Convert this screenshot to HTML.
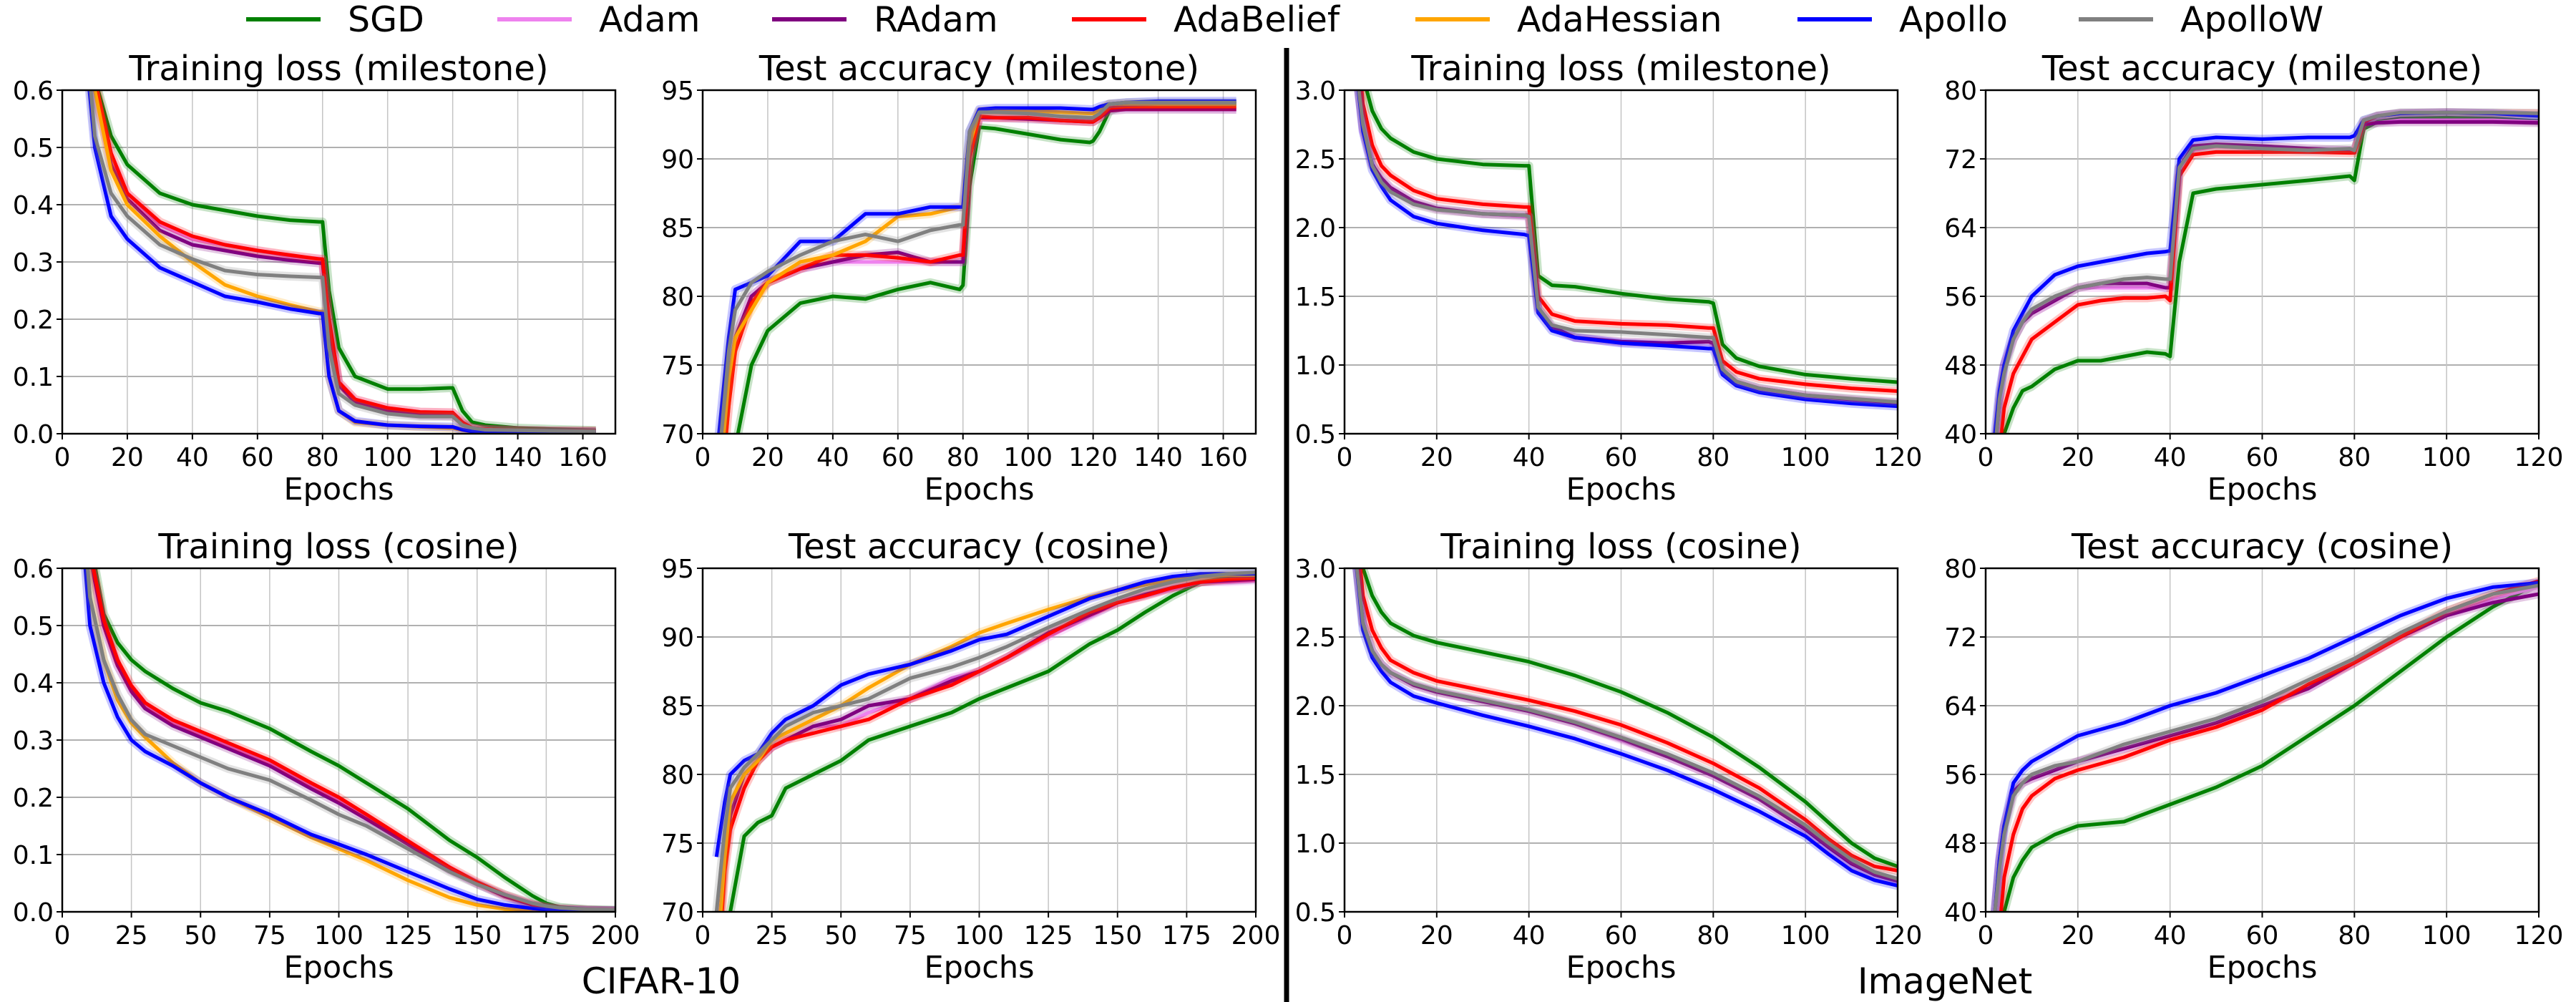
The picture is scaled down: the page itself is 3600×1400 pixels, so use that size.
<!DOCTYPE html>
<html><head><meta charset="utf-8">
<style>
html,body{margin:0;padding:0;background:#fff;}
svg{display:block;font-family:"DejaVu Sans","Liberation Sans",sans-serif;}
</style></head>
<body>
<svg id="fig" width="3600" height="1400" viewBox="0 0 3600 1400" xmlns="http://www.w3.org/2000/svg">
<rect x="0" y="0" width="3600" height="1400" fill="#fff"/>
<line x1="1798" y1="67" x2="1798" y2="1400" stroke="#000" stroke-width="7"/>
<text x="924" y="1388" font-size="50" text-anchor="middle">CIFAR-10</text>
<text x="2718" y="1388" font-size="50" text-anchor="middle">ImageNet</text>
<g id="legend"></g>
<g id="panels"></g>
</svg>
<script>
const names = ["SGD","Adam","RAdam","AdaBelief","AdaHessian","Apollo","ApolloW"];
const colors = ["#008000","#ee82ee","#800080","#ff0000","#ffa500","#0000ff","#808080"];
const legendLineX = [344,695,1079,1498,1978,2512,2905];

// Panel 1: CIFAR-10 training loss (milestone)
const p1Epochs = [5,10,15,20,30,40,50,60,70,79,80,82,85,90,100,110,119,120,123,126,130,140,150,164];
const p1SGD = [0.9,0.62,0.52,0.47,0.42,0.40,0.39,0.38,0.373,0.37,0.37,0.25,0.15,0.10,0.078,0.078,0.08,0.08,0.04,0.02,0.015,0.01,0.008,0.006];
const p1Adam = [0.9,0.6,0.48,0.42,0.365,0.34,0.33,0.32,0.31,0.306,0.305,0.2,0.09,0.06,0.045,0.038,0.037,0.037,0.02,0.01,0.008,0.006,0.005,0.004];
const p1RAdam = [0.9,0.6,0.47,0.41,0.355,0.33,0.32,0.31,0.303,0.298,0.298,0.19,0.085,0.055,0.04,0.032,0.031,0.031,0.018,0.01,0.008,0.006,0.005,0.004];
const p1AdaBelief = [0.9,0.62,0.49,0.42,0.37,0.345,0.33,0.32,0.312,0.305,0.305,0.2,0.09,0.06,0.045,0.038,0.037,0.037,0.02,0.01,0.008,0.006,0.005,0.005];
const p1AdaHessian = [0.9,0.6,0.46,0.4,0.345,0.3,0.26,0.24,0.225,0.213,0.213,0.1,0.04,0.02,0.015,0.012,0.01,0.01,0.006,0.004,0.003,0.003,0.002,0.002];
const p1Apollo = [0.8,0.5,0.38,0.34,0.29,0.265,0.24,0.23,0.218,0.21,0.21,0.1,0.04,0.022,0.015,0.013,0.012,0.012,0.007,0.004,0.003,0.002,0.002,0.002];
const p1ApolloW = [0.85,0.52,0.42,0.38,0.33,0.305,0.285,0.278,0.275,0.273,0.273,0.15,0.07,0.05,0.035,0.03,0.03,0.03,0.015,0.01,0.007,0.006,0.005,0.004];

// Panel 2: CIFAR-10 test accuracy (milestone)
const p2Epochs = [5,8,10,15,20,30,40,50,60,70,79,80,82,85,90,100,110,119,120,122,125,130,140,164];
const p2SGD = [60,65,69,75,77.5,79.5,80,79.8,80.5,81,80.5,80.8,88,92.3,92.2,91.8,91.4,91.2,91.3,92,93.5,93.9,94,94];
const p2Adam = [66,74,77,80,81,82,82.5,82.5,82.5,82.5,82.5,82.5,90,93,93,93,92.8,92.8,92.8,93,93.6,93.7,93.7,93.6];
const p2RAdam = [66,74,77,80,81,82,82.5,83,83.2,82.5,82.5,82.5,90,93,93,92.9,92.8,92.7,92.7,93,93.5,93.6,93.6,93.6];
const p2AdaBelief = [64,72,76,79.5,81,82,83,83,82.8,82.5,83,83,90,93.1,93,93,92.8,92.7,92.7,93,93.7,93.8,93.8,93.8];
const p2AdaHessian = [66,74,77,79,81,82.5,83,84,85.8,86,86.5,86.5,91,93.5,93.5,93.5,93.4,93.3,93.3,93.6,94,94,94,94];
const p2Apollo = [70,77,80.5,81,81.5,84,84,86,86,86.5,86.5,86.5,92,93.6,93.7,93.7,93.7,93.6,93.6,93.8,94,94.1,94.2,94.2];
const p2ApolloW = [68,76,79,81,81.8,83,84,84.5,84,84.8,85.2,85.2,92,93.4,93.4,93.3,93.1,93,93,93.3,94,94.1,94.1,94.1];

// Panel 3: ImageNet training loss (milestone)
const p3Epochs = [1,2,4,6,8,10,15,20,30,39,40,42,45,50,60,70,79,80,82,85,90,100,110,120];
const p3SGD = [5,4,3.1,2.85,2.72,2.65,2.55,2.5,2.46,2.45,2.45,1.65,1.58,1.57,1.52,1.48,1.46,1.45,1.15,1.05,0.99,0.93,0.9,0.875];
const p3Adam = [4,3.3,2.7,2.45,2.35,2.28,2.18,2.13,2.1,2.08,2.08,1.4,1.27,1.2,1.16,1.16,1.17,1.15,0.95,0.87,0.82,0.77,0.74,0.72];
const p3RAdam = [4,3.3,2.72,2.46,2.36,2.29,2.19,2.14,2.1,2.09,2.09,1.41,1.28,1.2,1.17,1.16,1.17,1.16,0.96,0.88,0.83,0.78,0.75,0.725];
const p3AdaBelief = [4.5,3.6,2.9,2.6,2.45,2.38,2.27,2.21,2.17,2.15,2.15,1.5,1.37,1.32,1.3,1.29,1.27,1.27,1.03,0.95,0.9,0.86,0.83,0.81];
const p3Apollo = [4,3.3,2.7,2.42,2.3,2.2,2.08,2.03,1.98,1.95,1.94,1.38,1.25,1.2,1.16,1.14,1.12,1.12,0.93,0.85,0.8,0.75,0.72,0.7];
const p3ApolloW = [4,3.3,2.75,2.45,2.33,2.26,2.17,2.13,2.1,2.09,2.08,1.42,1.29,1.25,1.24,1.22,1.2,1.2,0.97,0.88,0.83,0.78,0.755,0.73];

// Panel 4: ImageNet test accuracy (milestone)
const p4Epochs = [2,3,4,6,8,10,15,20,25,30,35,39,40,42,45,50,60,70,79,80,82,85,90,100,110,120];
const p4SGD = [30,36,40,43,45,45.5,47.5,48.5,48.5,49,49.5,49.3,49,60,68,68.5,69,69.5,70,69.5,75.5,76.3,76.7,76.8,76.7,76.4];
const p4Adam = [38,44,48,51,53,54,55.5,57,57,57,57,57,57,71,73,73.5,73.2,73,73,73,76,76.2,76.5,76.5,76.5,76.3];
const p4RAdam = [38,44,48,51,53,54,55.5,57,57.5,57.5,57.5,57,57,71,73.5,73.7,73.5,73.2,73,73,76,76.2,76.3,76.3,76.3,76.2];
const p4AdaBelief = [33,38,43,47,49,51,53,55,55.5,55.8,55.8,56,55.5,70,72.5,72.8,72.8,72.8,72.7,72.7,76.3,77,77.3,77.4,77.3,77.3];
const p4Apollo = [40,45,48,52,54,56,58.5,59.5,60,60.5,61,61.2,61.3,72,74.2,74.5,74.3,74.5,74.5,74.7,76.5,77,77.3,77.4,77.3,77];
const p4ApolloW = [38,44,47,51,53,54.5,56,57,57.5,58,58.2,58,58,71,73.2,73.5,73.2,73,73.2,73,76.5,77,77.4,77.4,77.4,77.3];

// Panel 5: CIFAR-10 training loss (cosine)
const p5Epochs = [5,10,15,20,25,30,40,50,60,75,90,100,110,125,140,150,160,170,175,180,190,200];
const p5SGD = [0.9,0.65,0.52,0.47,0.44,0.42,0.39,0.365,0.35,0.32,0.28,0.255,0.225,0.18,0.125,0.095,0.06,0.028,0.015,0.008,0.004,0.003];
const p5Adam = [0.9,0.62,0.5,0.43,0.39,0.36,0.33,0.31,0.29,0.26,0.22,0.195,0.165,0.12,0.075,0.05,0.028,0.012,0.008,0.005,0.003,0.002];
const p5RAdam = [0.9,0.62,0.5,0.43,0.385,0.355,0.325,0.305,0.285,0.255,0.215,0.19,0.162,0.118,0.073,0.049,0.027,0.012,0.008,0.005,0.003,0.002];
const p5AdaBelief = [0.9,0.63,0.51,0.44,0.395,0.365,0.335,0.315,0.295,0.265,0.225,0.2,0.17,0.124,0.078,0.052,0.03,0.013,0.008,0.005,0.003,0.002];
const p5AdaHessian = [0.85,0.55,0.44,0.37,0.33,0.305,0.26,0.225,0.2,0.165,0.13,0.11,0.09,0.055,0.025,0.012,0.005,0.002,0.001,0.001,0.001,0.001];
const p5Apollo = [0.8,0.5,0.4,0.34,0.3,0.28,0.255,0.225,0.2,0.17,0.135,0.118,0.1,0.07,0.04,0.022,0.012,0.006,0.004,0.003,0.002,0.002];
const p5ApolloW = [0.85,0.55,0.44,0.38,0.335,0.31,0.29,0.27,0.25,0.23,0.195,0.17,0.15,0.11,0.07,0.048,0.03,0.015,0.01,0.007,0.004,0.003];

// Panel 6: CIFAR-10 test accuracy (cosine)
const p6Epochs = [5,8,10,15,20,25,30,40,50,60,75,90,100,110,125,140,150,160,170,180,190,200];
const p6SGD = [60,66,70,75.5,76.5,77,79,80,81,82.5,83.5,84.5,85.5,86.3,87.5,89.5,90.5,91.8,93,94,94.3,94.5];
const p6Adam = [66,74,77,80,81,82,82.5,83.5,83.5,84.5,85.5,87,87.5,88.5,90,91.5,92.5,93,93.5,94,94,94.1];
const p6RAdam = [66,74,77,80,81,82,82.5,83.5,84,85,85.5,86.8,87.5,88.5,90.3,91.6,92.5,93.1,93.6,94,94.1,94.2];
const p6AdaBelief = [64,73,76,79,81,82,82.5,83,83.5,84,85.5,86.5,87.5,88.5,90.2,91.8,92.5,93,93.6,94,94.2,94.3];
const p6AdaHessian = [66,74,78,80,81,82.5,83,84,85,86.3,88,89.3,90.3,91,92,92.9,93.4,93.8,94.2,94.4,94.5,94.5];
const p6Apollo = [74,78,80,81,81.5,83,84,85,86.5,87.3,88,89,89.8,90.2,91.5,92.8,93.4,94,94.4,94.6,94.6,94.6];
const p6ApolloW = [70,76,79,80.5,81.5,82.5,83.5,84.5,85,85.5,87,87.8,88.5,89.3,90.7,92,92.8,93.5,94,94.4,94.6,94.7];

// Panel 7: ImageNet training loss (cosine)
const p7Epochs = [1,2,4,6,8,10,15,20,30,40,50,60,70,80,90,100,105,110,115,120];
const p7SGD = [5,3.6,3,2.8,2.68,2.6,2.51,2.46,2.39,2.32,2.22,2.1,1.95,1.77,1.55,1.3,1.15,1.0,0.89,0.83];
const p7Adam = [4.5,3.2,2.6,2.4,2.3,2.24,2.15,2.1,2.03,1.96,1.87,1.75,1.63,1.49,1.32,1.1,0.97,0.85,0.77,0.72];
const p7RAdam = [4.5,3.2,2.6,2.4,2.3,2.24,2.15,2.1,2.03,1.96,1.87,1.76,1.63,1.49,1.32,1.1,0.97,0.85,0.77,0.725];
const p7AdaBelief = [5,3.5,2.8,2.55,2.42,2.33,2.24,2.18,2.11,2.04,1.96,1.86,1.73,1.58,1.4,1.17,1.03,0.91,0.83,0.8];
const p7Apollo = [4.5,3.2,2.55,2.35,2.25,2.17,2.07,2.02,1.93,1.85,1.76,1.65,1.53,1.39,1.23,1.05,0.92,0.8,0.73,0.69];
const p7ApolloW = [4.5,3.2,2.6,2.4,2.3,2.24,2.16,2.11,2.04,1.97,1.88,1.77,1.65,1.51,1.34,1.13,1.0,0.88,0.79,0.74];

// Panel 8: ImageNet test accuracy (cosine)
const p8Epochs = [2,3,4,6,8,10,15,20,30,40,50,60,70,80,90,100,110,120];
const p8SGD = [30,38,40,44,46,47.5,49,50,50.5,52.5,54.5,57,60.5,64,68,72,75.5,78.3];
const p8Adam = [40,46,50,54,55,55.5,56.5,57.5,59,60.5,62,64,66,69,72,74.5,76.5,77.8];
const p8RAdam = [40,46,50,54,55,55.5,56.5,57.5,59,60.5,62,64,66,69,72,74.5,76,77];
const p8AdaBelief = [33,38,44,49,52,53.5,55.5,56.5,58,60,61.5,63.5,66.5,69,72,75,77,78.5];
const p8Apollo = [40,46,50,55,56.5,57.5,59,60.5,62,64,65.5,67.5,69.5,72,74.5,76.5,77.8,78.3];
const p8ApolloW = [40,45,49,53.5,55,56,57,57.5,59.5,61,62.5,64.5,67,69.5,72.5,75,77,78];

const lossTicksC = ["0.0","0.1","0.2","0.3","0.4","0.5","0.6"];
const accTicksC = ["70","75","80","85","90","95"];
const lossTicksI = ["0.5","1.0","1.5","2.0","2.5","3.0"];
const accTicksI = ["40","48","56","64","72","80"];
const xTicks170 = ["0","20","40","60","80","100","120","140","160"];
const xTicks200 = ["0","25","50","75","100","125","150","175","200"];
const xTicks120 = ["0","20","40","60","80","100","120"];

const NS = "http://www.w3.org/2000/svg";
function mk(tag, attrs, parent){const e=document.createElementNS(NS,tag);for(const k in attrs)e.setAttribute(k,attrs[k]);if(parent)parent.appendChild(e);return e;}

// legend
const lg = document.getElementById('legend');
names.forEach((n,i)=>{
  const x = legendLineX[i];
  const l = mk('line',{x1:x,y1:27,x2:x+104,y2:27,stroke:colors[i],'stroke-width':6},lg);
  
  
  const t = mk('text',{x:x+142,y:44,'font-size':49},lg);
  t.textContent = n;
  
  
});

const panels = [
 {id:'cifar-train-milestone',title:'Training loss (milestone)',x0:87,y0:126,xmax:170,ymin:0,ymax:0.6,yt:lossTicksC,xt:xTicks170,ep:p1Epochs,s:[p1SGD,p1Adam,p1RAdam,p1AdaBelief,p1AdaHessian,p1Apollo,p1ApolloW]},
 {id:'cifar-acc-milestone',title:'Test accuracy (milestone)',x0:982,y0:126,xmax:170,ymin:70,ymax:95,yt:accTicksC,xt:xTicks170,ep:p2Epochs,s:[p2SGD,p2Adam,p2RAdam,p2AdaBelief,p2AdaHessian,p2Apollo,p2ApolloW]},
 {id:'imagenet-train-milestone',title:'Training loss (milestone)',x0:1879,y0:126,xmax:120,ymin:0.5,ymax:3.0,yt:lossTicksI,xt:xTicks120,ep:p3Epochs,s:[p3SGD,p3Adam,p3RAdam,p3AdaBelief,null,p3Apollo,p3ApolloW]},
 {id:'imagenet-acc-milestone',title:'Test accuracy (milestone)',x0:2775,y0:126,xmax:120,ymin:40,ymax:80,yt:accTicksI,xt:xTicks120,ep:p4Epochs,s:[p4SGD,p4Adam,p4RAdam,p4AdaBelief,null,p4Apollo,p4ApolloW]},
 {id:'cifar-train-cosine',title:'Training loss (cosine)',x0:87,y0:794,xmax:200,ymin:0,ymax:0.6,yt:lossTicksC,xt:xTicks200,ep:p5Epochs,s:[p5SGD,p5Adam,p5RAdam,p5AdaBelief,p5AdaHessian,p5Apollo,p5ApolloW]},
 {id:'cifar-acc-cosine',title:'Test accuracy (cosine)',x0:982,y0:794,xmax:200,ymin:70,ymax:95,yt:accTicksC,xt:xTicks200,ep:p6Epochs,s:[p6SGD,p6Adam,p6RAdam,p6AdaBelief,p6AdaHessian,p6Apollo,p6ApolloW]},
 {id:'imagenet-train-cosine',title:'Training loss (cosine)',x0:1879,y0:794,xmax:120,ymin:0.5,ymax:3.0,yt:lossTicksI,xt:xTicks120,ep:p7Epochs,s:[p7SGD,p7Adam,p7RAdam,p7AdaBelief,null,p7Apollo,p7ApolloW]},
 {id:'imagenet-acc-cosine',title:'Test accuracy (cosine)',x0:2775,y0:794,xmax:120,ymin:40,ymax:80,yt:accTicksI,xt:xTicks120,ep:p8Epochs,s:[p8SGD,p8Adam,p8RAdam,p8AdaBelief,null,p8Apollo,p8ApolloW]}
];
const W = 773, H = 480;
const root = document.getElementById('panels');
panels.forEach((p,pi)=>{
  const g = mk('g',{},root);
  
  
  const sx = v => p.x0 + v / p.xmax * W;
  const sy = v => p.y0 + H - (v - p.ymin) / (p.ymax - p.ymin) * H;
  const cp = mk('clipPath',{id:'clip'+pi},g);
  mk('rect',{x:p.x0,y:p.y0,width:W,height:H},cp);
  // grid + ticks
  p.yt.forEach(t=>{
    const y = sy(parseFloat(t));
    const gl = mk('line',{x1:p.x0,y1:y,x2:p.x0+W,y2:y,stroke:'#b0b0b0','stroke-width':2},g);
    
    
    mk('line',{x1:p.x0-8,y1:y,x2:p.x0,y2:y,stroke:'#000','stroke-width':2},g);
    const tx = mk('text',{x:p.x0-12,y:y+13,'font-size':36,'text-anchor':'end'},g);
    tx.textContent = t;
    
    
  });
  p.xt.forEach(t=>{
    const x = sx(parseFloat(t));
    const gl = mk('line',{x1:x,y1:p.y0,x2:x,y2:p.y0+H,stroke:'#c4c4c4','stroke-width':1.5},g);
    
    
    mk('line',{x1:x,y1:p.y0+H,x2:x,y2:p.y0+H+8,stroke:'#000','stroke-width':2},g);
    const tx = mk('text',{x:x,y:p.y0+H+45,'font-size':36,'text-anchor':'middle'},g);
    tx.textContent = t;
    
    
  });
  // series
  const sg = mk('g',{'clip-path':'url(#clip'+pi+')'},g);
  p.s.forEach((arr,si)=>{
    if(!arr) return;
    const pts = arr.map((v,k)=>sx(p.ep[k]).toFixed(1)+','+sy(v).toFixed(1)).join(' ');
    const halo = mk('polyline',{points:pts,fill:'none',stroke:colors[si],'stroke-width':12,'stroke-opacity':0.22,'stroke-linejoin':'round'},sg);
    
    
    const ln = mk('polyline',{points:pts,fill:'none',stroke:colors[si],'stroke-width':5,'stroke-linejoin':'round'},sg);
    
    
  });
  const fr = mk('rect',{x:p.x0,y:p.y0,width:W,height:H,fill:'none',stroke:'#000','stroke-width':2.5},g);
  
  
  const tt = mk('text',{x:p.x0+W/2,y:p.y0-14,'font-size':48,'text-anchor':'middle'},g);
  tt.textContent = p.title;
  
  
  const xl = mk('text',{x:p.x0+W/2,y:p.y0+H+92,'font-size':43,'text-anchor':'middle'},g);
  xl.textContent = 'Epochs';
  
  
});
</script>
</body></html>
